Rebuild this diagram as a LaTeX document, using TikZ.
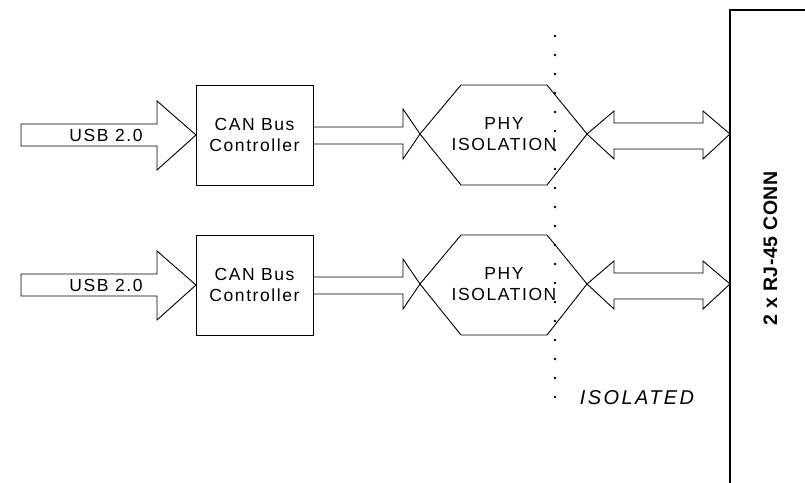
\documentclass[tikz,border=0pt]{standalone}
\usepackage{fontspec}
\setmainfont{Liberation Sans}
\newfontfamily\lblfam[LetterSpace=9]{Liberation Sans}
\newfontfamily\connfam[LetterSpace=3]{Liberation Sans}
\newfontfamily\isofam[LetterSpace=12]{Liberation Sans}
\begin{document}
\begin{tikzpicture}[x=1pt,y=-1pt,line join=miter]
\tikzset{
  ln/.style={draw=black,line width=0.9pt},
  lbl/.style={font=\lblfam\fontsize{17.5}{21}\selectfont,inner sep=0pt,align=center},
  connlbl/.style={font=\connfam\bfseries\fontsize{19.5}{22}\selectfont,inner sep=0pt},
  isolbl/.style={font=\isofam\itshape\fontsize{20}{22}\selectfont,inner sep=0pt},
  dotmark/.style={fill=black}
}
\useasboundingbox (0,0) rectangle (805,482);
\fill[white] (0,0) rectangle (805,482);
\foreach \i/\o in {1/0,2/150}{
  % USB input arrow
  \draw[ln] (21,{124+\o}) -- (157,{124+\o}) -- (157,{101+\o}) -- (196,{135+\o})
     -- (157,{170+\o}) -- (157,{146+\o}) -- (21,{146+\o}) -- cycle;
  \node[lbl] (usb\i) at (106,{135+\o}) {USB 2.0};
  % CAN bus controller box
  \node[ln,lbl,minimum width=117pt,minimum height=100pt] (can\i) at (254.5,{135+\o}) {CAN Bus\\Controller};
  % arrow to PHY
  \draw[ln] (can\i.east |- 0,{127+\o}) -- (403,{127+\o}) -- (403,{109+\o}) -- (420,{134+\o})
     -- (403,{159+\o}) -- (403,{144+\o}) -- (can\i.east |- 0,{144+\o});
  % PHY isolation hexagon
  \draw[ln] (420,{134+\o}) -- (461,{85+\o}) -- (547,{85+\o}) -- (587,{134+\o})
     -- (547,{185+\o}) -- (461,{185+\o}) -- cycle;
  \node[lbl] (phy\i) at (504,{134+\o}) {PHY\\ISOLATION};
  % double arrow to connector
  \draw[ln] (587,{134+\o}) -- (614,{111+\o}) -- (614,{123+\o}) -- (703,{123+\o}) -- (703,{111+\o})
     -- (730,{134+\o}) -- (703,{159+\o}) -- (703,{149+\o}) -- (614,{149+\o}) -- (614,{159+\o}) -- cycle;
}
% connector
\draw[line width=1.4pt] (812,10) -- (730,10) -- (730,490);
\node[connlbl,rotate=90] (conn) at (770.5,248.5) {2 x RJ-45 CONN};
% isolation barrier
\foreach \k in {0,...,19}{
  \fill[dotmark] (555,{36+19*\k}) circle (1.3pt);
}
\node[isolbl] (iso) at (637,397.5) {ISOLATED};
\end{tikzpicture}
\end{document}
